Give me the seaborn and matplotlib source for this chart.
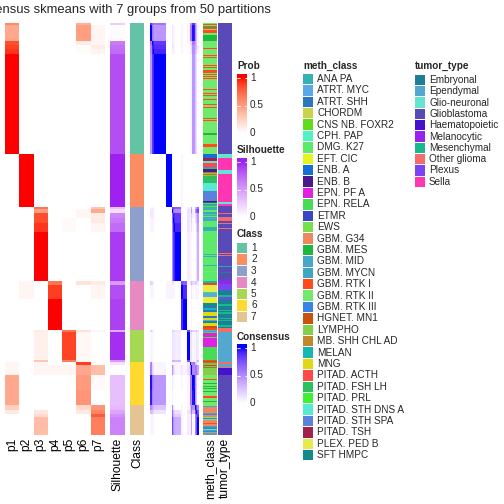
import numpy as np
import pandas as pd
import matplotlib
matplotlib.use("Agg")
import matplotlib.pyplot as plt
import seaborn as sns
from matplotlib.colors import ListedColormap, to_rgb
from matplotlib.patches import Rectangle

sns.set_theme(style="white")
plt.rcParams["font.family"] = ["Liberation Sans", "DejaVu Sans"]

title = "Consensus skmeans with 7 groups from 50 partitions"

# ---- membership blocks (samples in heatmap order) ----
seg_sizes = [2, 16, 4, 4, 5, 100,
             53,
             2, 4, 5, 5, 9, 49,
             4, 14, 31,
             2, 28, 2,
             3, 10, 15, 15,
             5, 4, 3, 18]
seg_class = [1, 1, 1, 1, 1, 1,
             2,
             3, 3, 3, 3, 3, 3,
             4, 4, 4,
             5, 5, 5,
             6, 6, 6, 6,
             7, 7, 7, 7]
seg_prob = [
    [.60, 0, 0, 0, 0, .40, 0],
    [.45, 0, 0, 0, 0, .50, .05],
    [.85, 0, 0, 0, 0, .10, .05],
    [.88, 0, 0, 0, 0, .02, .10],
    [.92, 0, 0, 0, 0, .02, .06],
    [1, 0, 0, 0, 0, 0, 0],
    [0, 1, 0, 0, 0, 0, 0],
    [0, 0, .70, 0, 0, 0, .30],
    [0, 0, .50, 0, 0, .05, .45],
    [0, 0, .85, 0, 0, .05, .10],
    [0, 0, .85, 0, .03, 0, .12],
    [0, 0, .92, 0, .03, 0, .05],
    [0, 0, 1, 0, 0, 0, 0],
    [0, .05, 0, .70, 0, .15, .10],
    [0, .05, 0, .90, 0, 0, .05],
    [0, 0, 0, 1, 0, 0, 0],
    [0, 0, .10, 0, .70, .15, .05],
    [0, 0, .08, 0, .88, .04, 0],
    [0, 0, .30, 0, .65, .05, 0],
    [.05, 0, .05, 0, 0, .90, 0],
    [.05, 0, .05, .05, .05, .45, .35],
    [.45, 0, 0, 0, 0, .52, .03],
    [.45, 0, 0, 0, 0, .55, 0],
    [.25, 0, 0, 0, 0, .20, .55],
    [.12, 0, .14, 0, 0, .12, .62],
    [0, 0, .20, 0, 0, 0, .80],
    [0, 0, .35, 0, 0, 0, .65],
]
seg_sil = [.25, .02, .65, .70, .72, .85,
           1.0,
           .30, .15, .60, .65, .72, .92,
           .50, .85, .90,
           .40, .96, .50,
           .15, 0, .32, .32,
           .35, .45, .55, .62]

class_colors = ["#66C2A5", "#FC8D62", "#8DA0CB", "#E78AC3", "#A6D854", "#FFD92F", "#E5C494"]

meth_levels = ["ANA PA", "ATRT. MYC", "ATRT. SHH", "CHORDM", "CNS NB. FOXR2", "CPH. PAP",
               "DMG. K27", "EFT. CIC", "ENB. A", "ENB. B", "EPN. PF A", "EPN. RELA", "ETMR",
               "EWS", "GBM. G34", "GBM. MES", "GBM. MID", "GBM. MYCN", "GBM. RTK I",
               "GBM. RTK II", "GBM. RTK III", "HGNET. MN1", "LYMPHO", "MB. SHH CHL AD",
               "MELAN", "MNG", "PITAD. ACTH", "PITAD. FSH LH", "PITAD. PRL",
               "PITAD. STH DNS A", "PITAD. STH SPA", "PITAD. TSH", "PLEX. PED B", "SFT HMPC"]
meth_colors = ["#36B0B4", "#5AA8E8", "#2A78BC", "#C8D24E", "#62DC1A", "#52F2C2",
               "#5BEA6A", "#E4F522", "#1470D6", "#4A1A88", "#E022E0", "#46DC56", "#3A46C0",
               "#74E04C", "#EE8660", "#1CB83E", "#48A6C8", "#3EA6BE", "#FF4A1C",
               "#72E86C", "#3A82E6", "#C8520E", "#82D04A", "#C08A2A",
               "#14B8B0", "#E0D812", "#FF4848", "#2EC060", "#3EF232",
               "#56EAD2", "#5A82DA", "#A2204A", "#E6EA4A", "#148A8A"]

meth_runs = [
    # class 1
    ("GBM. RTK II", 1), ("GBM. RTK I", 1), ("GBM. RTK II", 1), ("GBM. RTK I", 1),
    ("GBM. MES", 1), ("GBM. RTK I", 1), ("GBM. RTK II", 1), ("GBM. RTK I", 3),
    ("GBM. RTK II", 2), ("GBM. MES", 6), ("GBM. RTK II", 7), ("GBM. RTK I", 1),
    ("GBM. RTK II", 6), ("GBM. RTK I", 1), ("GBM. RTK II", 1), ("GBM. RTK I", 1),
    ("GBM. RTK II", 7), ("GBM. RTK I", 1), ("GBM. RTK II", 1), ("GBM. RTK I", 1),
    ("GBM. RTK II", 2), ("GBM. RTK I", 3), ("GBM. RTK II", 1), ("GBM. RTK I", 1),
    ("GBM. RTK II", 1), ("GBM. RTK I", 1), ("GBM. RTK II", 1), ("GBM. RTK I", 1),
    ("GBM. RTK II", 10), ("GBM. RTK I", 1), ("GBM. RTK II", 3), ("GBM. RTK I", 1),
    ("GBM. RTK II", 1), ("GBM. RTK I", 1), ("GBM. RTK II", 3), ("GBM. RTK I", 1),
    ("GBM. RTK II", 4), ("GBM. RTK I", 1), ("GBM. RTK II", 2), ("GBM. RTK I", 1),
    ("GBM. RTK II", 10), ("GBM. RTK I", 1), ("GBM. RTK II", 1), ("GBM. RTK I", 1),
    ("GBM. RTK II", 12), ("GBM. MES", 2), ("GBM. RTK II", 9), ("GBM. RTK I", 3),
    ("GBM. RTK II", 7),
    # class 2
    ("ENB. A", 4), ("PITAD. TSH", 3), ("PITAD. STH DNS A", 2), ("PITAD. ACTH", 4),
    ("PITAD. STH SPA", 1), ("PITAD. FSH LH", 1), ("ENB. B", 3), ("PITAD. ACTH", 1),
    ("PITAD. PRL", 1), ("PITAD. ACTH", 1), ("PITAD. PRL", 1), ("PITAD. FSH LH", 7),
    ("PITAD. STH DNS A", 8), ("PITAD. STH SPA", 10), ("ENB. B", 1), ("ETMR", 1),
    ("PITAD. PRL", 1), ("PITAD. STH SPA", 1), ("PITAD. FSH LH", 1), ("PITAD. PRL", 1),
    # class 3
    ("ANA PA", 2), ("GBM. MID", 1), ("DMG. K27", 2), ("GBM. MYCN", 2), ("EPN. RELA", 1),
    ("GBM. MID", 1), ("DMG. K27", 1), ("GBM. MID", 4), ("DMG. K27", 6), ("ANA PA", 4),
    ("DMG. K27", 23), ("GBM. MID", 1), ("DMG. K27", 1), ("ANA PA", 1), ("DMG. K27", 8),
    ("GBM. MID", 1), ("DMG. K27", 5), ("GBM. RTK II", 1), ("DMG. K27", 9),
    # class 4
    ("MELAN", 2), ("HGNET. MN1", 1), ("GBM. RTK I", 1), ("PLEX. PED B", 7),
    ("EPN. RELA", 1), ("ATRT. MYC", 4), ("PLEX. PED B", 2), ("EFT. CIC", 4),
    ("ATRT. SHH", 1), ("SFT HMPC", 2), ("ATRT. SHH", 2), ("MELAN", 2), ("ATRT. SHH", 2),
    ("MNG", 4), ("ATRT. SHH", 2), ("MNG", 2), ("ATRT. MYC", 1), ("SFT HMPC", 2),
    ("MNG", 3), ("HGNET. MN1", 2), ("GBM. RTK I", 2),
    # class 5
    ("ATRT. MYC", 1), ("ANA PA", 1), ("EPN. RELA", 1), ("EPN. PF A", 4), ("EPN. RELA", 1),
    ("EPN. PF A", 9), ("EPN. RELA", 13), ("GBM. RTK I", 1), ("HGNET. MN1", 1),
    # class 6
    ("GBM. RTK I", 1), ("EPN. RELA", 2), ("HGNET. MN1", 1), ("EPN. RELA", 1),
    ("GBM. RTK I", 1), ("LYMPHO", 7), ("GBM. RTK II", 4), ("GBM. RTK I", 1),
    ("GBM. RTK II", 3), ("GBM. MES", 1), ("GBM. RTK II", 2), ("GBM. MES", 1),
    ("GBM. RTK II", 1), ("GBM. MES", 1), ("GBM. RTK II", 2), ("GBM. MES", 1),
    ("GBM. RTK II", 4), ("GBM. RTK I", 2), ("GBM. RTK II", 3), ("GBM. MES", 1),
    ("GBM. RTK II", 3),
    # class 7
    ("GBM. RTK II", 1), ("GBM. MID", 1), ("GBM. G34", 6), ("GBM. MID", 1),
    ("GBM. RTK III", 1), ("GBM. G34", 2), ("GBM. RTK II", 1), ("GBM. RTK III", 1),
    ("GBM. RTK II", 1), ("GBM. G34", 3), ("GBM. RTK I", 1), ("GBM. G34", 2),
    ("GBM. MID", 1), ("GBM. RTK III", 2), ("GBM. RTK II", 1), ("GBM. MYCN", 1),
    ("GBM. RTK III", 1), ("GBM. G34", 1), ("GBM. MID", 2),
]

tumor_levels = ["Embryonal", "Ependymal", "Glio-neuronal", "Glioblastoma", "Haematopoietic",
                "Melanocytic", "Mesenchymal", "Other glioma", "Plexus", "Sella"]
tumor_colors = ["#1C7F96", "#52A8CE", "#62E6D2", "#5A4AB8", "#4612CC",
                "#9A22F0", "#16B88C", "#F46C6C", "#7A44F2", "#FF36B2"]

tumor_runs = [
    ("Glioblastoma", 131), ("Glio-neuronal", 4), ("Sella", 12), ("Glio-neuronal", 4),
    ("Sella", 28), ("Glio-neuronal", 2), ("Sella", 2), ("Glioblastoma", 7),
    ("Other glioma", 1), ("Glioblastoma", 3), ("Other glioma", 4), ("Glioblastoma", 2),
    ("Other glioma", 1), ("Glioblastoma", 4), ("Other glioma", 1), ("Glioblastoma", 24),
    ("Other glioma", 1), ("Glioblastoma", 1), ("Other glioma", 1), ("Glioblastoma", 10),
    ("Mesenchymal", 1), ("Glioblastoma", 5), ("Embryonal", 1), ("Glioblastoma", 8),
    ("Melanocytic", 3), ("Plexus", 6), ("Embryonal", 5), ("Mesenchymal", 2), ("Plexus", 2),
    ("Embryonal", 5), ("Mesenchymal", 2), ("Embryonal", 4), ("Mesenchymal", 1),
    ("Embryonal", 1), ("Mesenchymal", 2), ("Embryonal", 4), ("Mesenchymal", 1),
    ("Embryonal", 1), ("Mesenchymal", 1), ("Embryonal", 4), ("Mesenchymal", 2),
    ("Embryonal", 1), ("Other glioma", 4), ("Ependymal", 30), ("Other glioma", 2),
    ("Ependymal", 2), ("Other glioma", 1), ("Ependymal", 1), ("Haematopoietic", 7),
    ("Glioblastoma", 60),
]


# ---- colour ramps interpolated in LAB like ComplexHeatmap ----
def to_lab(c):
    c = np.asarray(to_rgb(c), float)
    lin = np.where(c <= 0.04045, c / 12.92, ((c + 0.055) / 1.055) ** 2.4)
    M = np.array([[0.4124, 0.3576, 0.1805], [0.2126, 0.7152, 0.0722], [0.0193, 0.1192, 0.9505]])
    xyz = M @ lin / np.array([0.95047, 1.0, 1.08883])
    f = np.where(xyz > 0.008856, np.cbrt(xyz), 7.787 * xyz + 16 / 116)
    return np.array([116 * f[1] - 16, 500 * (f[0] - f[1]), 200 * (f[1] - f[2])])


def from_lab(lab):
    L, a, b = lab
    fy = (L + 16) / 116
    f = np.array([fy + a / 500, fy, fy - b / 200])
    xyz = np.where(f ** 3 > 0.008856, f ** 3, (f - 16 / 116) / 7.787) * np.array([0.95047, 1.0, 1.08883])
    Minv = np.array([[3.2406, -1.5372, -0.4986], [-0.9689, 1.8758, 0.0415], [0.0557, -0.2040, 1.0570]])
    lin = np.clip(Minv @ xyz, 0, 1)
    c = np.where(lin <= 0.0031308, 12.92 * lin, 1.055 * lin ** (1 / 2.4) - 0.055)
    return np.clip(c, 0, 1)


def lab_cmap(c0, c1, n=256):
    l0, l1 = to_lab(c0), to_lab(c1)
    return ListedColormap([from_lab(l0 + (l1 - l0) * t) for t in np.linspace(0, 1, n)])


prob_cmap = lab_cmap("white", "red")
sil_cmap = lab_cmap("white", "#A020F0")
cons_cmap = lab_cmap("white", "blue")

# ---- expand blocks to per-sample arrays ----
prob = np.vstack([np.tile(p, (n, 1)) for n, p in zip(seg_sizes, seg_prob)])
sil = np.repeat(seg_sil, seg_sizes)
cls = np.repeat(seg_class, seg_sizes)
meth = np.repeat([m for m, _ in meth_runs], [k for _, k in meth_runs])
tumor = np.repeat([t for t, _ in tumor_runs], [k for _, k in tumor_runs])
n_samp = len(prob)
assert len(meth) == n_samp and len(tumor) == n_samp, (len(meth), len(tumor), n_samp)

prob_df = pd.DataFrame(prob, columns=[f"p{i}" for i in range(1, 8)])
# consensus between two samples: share of membership they have in common
consensus = 1 - 0.5 * np.abs(prob[:, None, :] - prob[None, :, :]).sum(axis=2)

# ---- figure ----
W = H = 504
fig = plt.figure(figsize=(7, 7), dpi=72)


def px_axes(x0, y0, x1, y1):
    return fig.add_axes([x0 / W, 1 - y1 / H, (x1 - x0) / W, (y1 - y0) / H])


top, bot = 23, 435
label_kw = dict(labelsize=12, length=0, pad=3)

ax = px_axes(5, top, 105, bot)
sns.heatmap(prob_df, ax=ax, cmap=prob_cmap, vmin=0, vmax=1, cbar=False, yticklabels=False)

ax = px_axes(110, top, 125, bot)
sns.heatmap(pd.DataFrame({"Silhouette": sil}), ax=ax, cmap=sil_cmap, vmin=0, vmax=1,
            cbar=False, yticklabels=False)

ax = px_axes(130, top, 144, bot)
sns.heatmap(pd.DataFrame({"Class": cls - 1}), ax=ax, cmap=ListedColormap(class_colors),
            vmin=-0.5, vmax=6.5, cbar=False, yticklabels=False)

ax = px_axes(150, top, 199, bot)
sns.heatmap(consensus, ax=ax, cmap=cons_cmap, vmin=0, vmax=1, cbar=False,
            xticklabels=False, yticklabels=False)

ax = px_axes(203, top, 217, bot)
sns.heatmap(pd.DataFrame({"meth_class": [meth_levels.index(m) for m in meth]}), ax=ax,
            cmap=ListedColormap(meth_colors), vmin=-0.5, vmax=len(meth_levels) - 0.5,
            cbar=False, yticklabels=False)

ax = px_axes(218, top, 232, bot)
sns.heatmap(pd.DataFrame({"tumor_type": [tumor_levels.index(t) for t in tumor]}), ax=ax,
            cmap=ListedColormap(tumor_colors), vmin=-0.5, vmax=len(tumor_levels) - 0.5,
            cbar=False, yticklabels=False)

for a in fig.axes:
    a.tick_params(axis="x", **label_kw)
    for t in a.get_xticklabels():
        t.set_rotation(90)
        t.set_color("black")

# ---- overlay in pixel coordinates for title and legends ----
ov = fig.add_axes([0, 0, 1, 1])
ov.set_xlim(0, W)
ov.set_ylim(H, 0)
ov.axis("off")

ov.text(271, 10, title, ha="right", va="center", fontsize=13)

title_kw = dict(fontsize=10, fontweight="bold", ha="left", va="center")
lab_kw = dict(fontsize=10, ha="left", va="center")


def gradient_legend(name, y_title, y0, cmap):
    y1 = y0 + 62
    ov.text(237, y_title, name, **title_kw)
    span = y1 - y0 - 7
    vals = np.linspace(-3 / span, 1 + 4 / span, 200).clip(0, 1)[:, None]
    ov.imshow(vals, extent=[237, 247, y1, y0], origin="lower", cmap=cmap,
              vmin=0, vmax=1, aspect="auto", interpolation="bilinear")
    for v, s in [(1, "1"), (0.5, "0.5"), (0, "0")]:
        yy = y1 - 3 - v * span
        ov.plot([237, 239.5], [yy, yy], color="white", lw=0.8)
        ov.plot([244.5, 247], [yy, yy], color="white", lw=0.8)
        ov.text(250, yy, s, **lab_kw)


def box_legend(name, x, y_title, y_first, step, labels, colors):
    ov.text(x, y_title, name, **title_kw)
    for i, (lab, col) in enumerate(zip(labels, colors)):
        yc = y_first + i * step
        ov.add_patch(Rectangle((x, yc - step / 2 + 0.5), 10, step - 1, facecolor=col,
                               edgecolor="none"))
        ov.text(x + 14, yc, lab, **lab_kw)


gradient_legend("Prob", 66, 74, prob_cmap)
gradient_legend("Silhouette", 150, 158, sil_cmap)
box_legend("Class", 237, 234, 248, 11.5, [str(c) for c in range(1, 8)], class_colors)
gradient_legend("Consensus", 337, 344, cons_cmap)
box_legend("meth_class", 303, 66, 79, 11.4, meth_levels, meth_colors)
box_legend("tumor_type", 415, 66, 80, 11.3, tumor_levels, tumor_colors)

ov.set_xlim(0, W)
ov.set_ylim(H, 0)

fig.savefig("out.png", dpi=72)
